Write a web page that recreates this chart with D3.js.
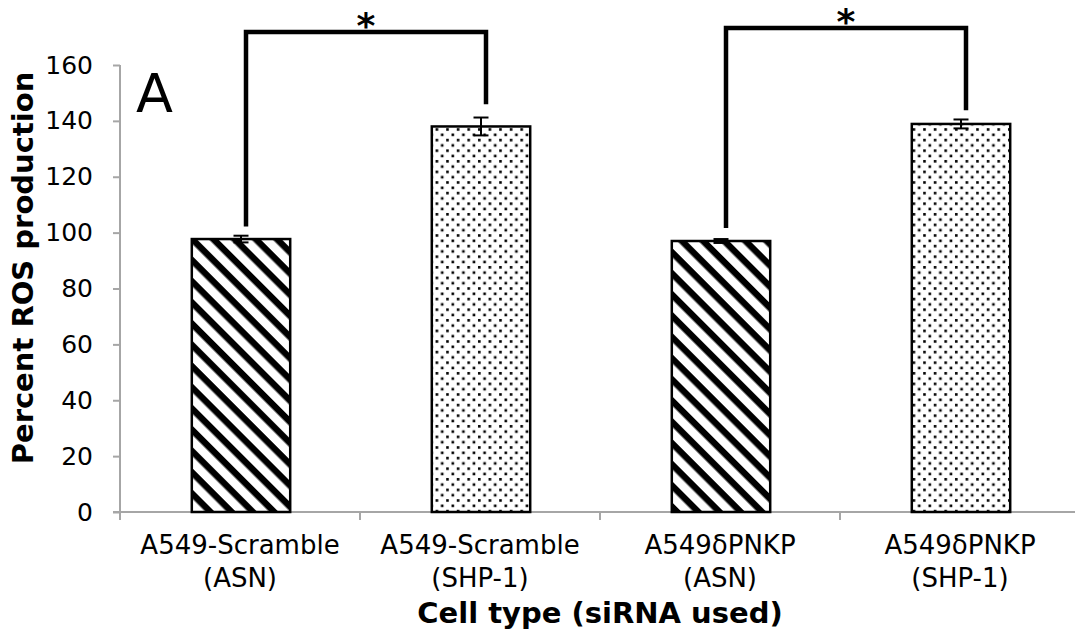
<!DOCTYPE html>
<html><head><meta charset="utf-8">
<script src="https://cdn.jsdelivr.net/npm/d3@7"></script>
<style>body{margin:0;background:#fff}svg{display:block}</style>
</head><body>
<svg id="c" width="1075" height="634"></svg>
<script>
const categories = ["A549-Scramble\n(ASN)", "A549-Scramble\n(SHP-1)", "A549δPNKP\n(ASN)", "A549δPNKP\n(SHP-1)"];
const values = [97.7, 138.0, 97.0, 138.9];
const errors = [1.2, 3.2, 0.7, 1.6];
const patterns = ["hatch", "dots", "hatch", "dots"];
const yTicks = [0, 20, 40, 60, 80, 100, 120, 140, 160];
// significance brackets: from category index, to category index, top value, left end value, right end value
const bracketFrom = [0, 2];
const bracketTo = [1, 3];
const bracketTop = [171.8, 173.2];
const bracketLeftEnd = [103.0, 102.5];
const bracketRightEnd = [146.8, 144.6];
const bracketLabel = ["*", "*"];

const svg = d3.select("#c");
const font = "'DejaVu Sans', Verdana, sans-serif";
const axisColor = "#a6a6a6";

const x = d3.scaleBand().domain(categories).range([121, 1081]).paddingInner(0.59).paddingOuter(0.295);
const xEdge = d3.scaleBand().domain(categories).range([120, 1080]).padding(0);
const y = d3.scaleLinear().domain([0, 160]).range([512, 65]);

const defs = svg.append("defs");
const hp = defs.append("pattern").attr("id", "hatch").attr("patternUnits", "userSpaceOnUse")
  .attr("width", 15).attr("height", 15).attr("patternTransform", "rotate(45)");
hp.append("rect").attr("width", 15).attr("height", 15).attr("fill", "#fff");
hp.append("rect").attr("x", 0).attr("y", 0).attr("width", 15).attr("height", 6.5).attr("fill", "#000");
const dp = defs.append("pattern").attr("id", "dots").attr("patternUnits", "userSpaceOnUse")
  .attr("width", 10.6).attr("height", 10.6);
dp.append("rect").attr("width", 10.6).attr("height", 10.6).attr("fill", "#fff");
dp.append("rect").attr("x", 1).attr("y", 1).attr("width", 2.6).attr("height", 2.6).attr("fill", "#000");
dp.append("rect").attr("x", 6.3).attr("y", 6.3).attr("width", 2.6).attr("height", 2.6).attr("fill", "#000");

// y axis
const yAxis = svg.append("g").attr("transform", "translate(120,0)")
  .call(d3.axisLeft(y).tickValues(yTicks).tickSize(7).tickPadding(20).tickFormat(d3.format("d")));
yAxis.select(".domain").attr("stroke", axisColor).attr("stroke-width", 2).attr("d", "M0," + y(160) + "V" + y(0));
yAxis.selectAll(".tick line").attr("stroke", axisColor).attr("stroke-width", 2);
yAxis.selectAll(".tick text").attr("font-family", font).attr("font-size", 25).attr("fill", "#000");

// x axis line and ticks at category edges
const xg = svg.append("g");
xg.append("line").attr("x1", 113).attr("x2", 1080).attr("y1", y(0)).attr("y2", y(0))
  .attr("stroke", axisColor).attr("stroke-width", 2);
const edges = categories.map(c => xEdge(c)).concat([xEdge(categories[categories.length - 1]) + xEdge.bandwidth()]);
xg.selectAll(".et").data(edges).join("line").attr("class", "et")
  .attr("x1", d => d).attr("x2", d => d).attr("y1", y(0)).attr("y2", y(0) + 8)
  .attr("stroke", axisColor).attr("stroke-width", 2);
const lab = xg.selectAll(".xl").data(categories).join("text").attr("class", "xl")
  .attr("x", d => xEdge(d) + xEdge.bandwidth() / 2)
  .attr("text-anchor", "middle").attr("font-family", font).attr("font-size", 26).attr("fill", "#000");
lab.selectAll("tspan").data(d => d.split("\n")).join("tspan")
  .attr("x", function() { return d3.select(this.parentNode).attr("x"); })
  .attr("y", (d, i) => 554 + i * 33).text(d => d);

// bars
svg.selectAll(".bar").data(categories).join("rect").attr("class", "bar")
  .attr("x", d => x(d)).attr("width", x.bandwidth())
  .attr("y", (d, i) => y(values[i])).attr("height", (d, i) => y(0) - y(values[i]))
  .attr("fill", (d, i) => "url(#" + patterns[i] + ")")
  .attr("stroke", "#000").attr("stroke-width", 2.5);

// error bars
const eg = svg.append("g").attr("stroke", "#000").attr("stroke-width", 2);
categories.forEach((c, i) => {
  const cx = x(c) + x.bandwidth() / 2;
  eg.append("line").attr("x1", cx).attr("x2", cx).attr("y1", y(values[i] + errors[i])).attr("y2", y(values[i] - errors[i]));
  [values[i] + errors[i], values[i] - errors[i]].forEach(v => {
    eg.append("line").attr("x1", cx - 7.5).attr("x2", cx + 7.5).attr("y1", y(v)).attr("y2", y(v));
  });
});

// brackets
bracketFrom.forEach((f, k) => {
  const x1 = x(categories[f]) + x.bandwidth() / 2 + 5;
  const x2 = x(categories[bracketTo[k]]) + x.bandwidth() / 2 + 5;
  svg.append("path")
    .attr("d", "M" + x1 + "," + y(bracketLeftEnd[k]) + "V" + y(bracketTop[k]) + "H" + x2 + "V" + y(bracketRightEnd[k]))
    .attr("fill", "none").attr("stroke", "#000").attr("stroke-width", 4.5).attr("stroke-linejoin", "miter").attr("stroke-linecap", "square");
  svg.append("text").attr("x", (x1 + x2) / 2).attr("y", y(bracketTop[k]) + 6)
    .attr("text-anchor", "middle").attr("font-family", font).attr("font-weight", "bold").attr("font-size", 36).attr("fill", "#000")
    .text(bracketLabel[k]);
});

// panel label
svg.append("text").attr("x", 136).attr("y", 112).attr("font-family", font).attr("font-size", 54).attr("fill", "#000").text("A");

// axis titles
svg.append("text").attr("transform", "translate(33," + 268 + ") rotate(-90)").attr("text-anchor", "middle")
  .attr("font-family", font).attr("font-weight", "bold").attr("font-size", 29).attr("fill", "#000")
  .text("Percent ROS production");
svg.append("text").attr("x", 600).attr("y", 623).attr("text-anchor", "middle")
  .attr("font-family", font).attr("font-weight", "bold").attr("font-size", 29).attr("fill", "#000")
  .text("Cell type (siRNA used)");
</script>
</body></html>
